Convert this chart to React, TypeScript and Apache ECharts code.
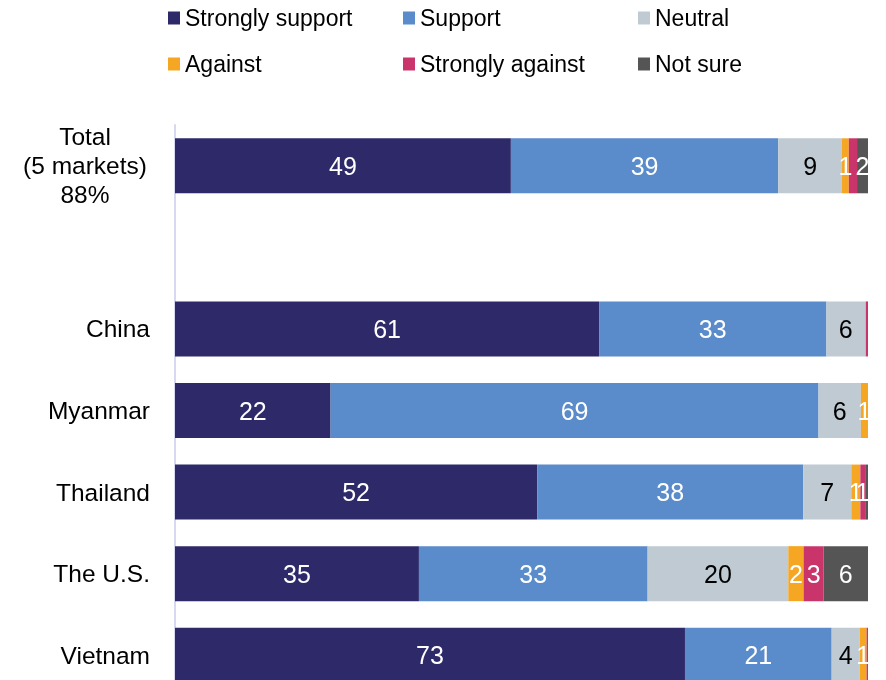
import React, { useEffect, useRef } from 'react';
import * as echarts from 'echarts';

const categories = ['Total\n(5 markets)\n88%', '', 'China', 'Myanmar', 'Thailand', 'The U.S.', 'Vietnam'];
const seriesNames = ['Strongly support', 'Support', 'Neutral', 'Against', 'Strongly against', 'Not sure'];
const stronglySupport = [49, null, 61.2, 22, 52, 35.2, 73];
const support = [39, null, 32.8, 69, 38.2, 33, 21];
const neutral = [9.3, null, 5.6, 6, 6.9, 20.3, 4];
const against = [1, null, 0.1, 1, 1.3, 2.2, 1];
const stronglyAgainst = [1.2, null, 0.3, 0, 0.7, 2.9, 0.2];
const notSure = [1.6, null, 0, 0, 0.4, 6.4, 0];
// [seriesIndex, categoryIndex] of labels not printed in the original
const hiddenLabels = [[4, 0]];

const rawSeries = [stronglySupport, support, neutral, against, stronglyAgainst, notSure];
const colors = ['#2e2a6a', '#5a8bca', '#bfcad3', '#f5a623', '#c9356b', '#555555'];
const labelColors = ['#ffffff', '#ffffff', '#000000', '#ffffff', '#ffffff', '#ffffff'];

const TEXT_FONT = "'Liberation Sans', Arial, sans-serif";
const NUM_FONT = "'Liberation Sans', Arial, sans-serif";

export default function App() {
  const ref = useRef<HTMLDivElement>(null);
  useEffect(() => {
    if (!ref.current) return;
    const chart = echarts.init(ref.current, null, { renderer: 'svg' });
    const rowSums = categories.map((_, i) =>
      rawSeries.reduce((s, arr) => s + (arr[i] == null ? 0 : (arr[i] as number)), 0)
    );
    const series = rawSeries.map((arr, si) => ({
      name: seriesNames[si],
      type: 'bar',
      stack: 'total',
      barWidth: 55,
      itemStyle: { color: colors[si] },
      label: {
        show: true,
        position: 'inside',
        color: labelColors[si],
        fontSize: 25,
        fontFamily: NUM_FONT,
        formatter: (p: any) => {
          const raw = rawSeries[p.seriesIndex][p.dataIndex];
          if (raw == null) return '';
          const r = Math.round(raw as number);
          return r >= 1 ? String(r) : '';
        },
      },
      data: arr.map((v, ci) => {
        if (v == null) return '-';
        const val = ((v as number) / rowSums[ci]) * 100;
        const hidden = hiddenLabels.some(([s, c]) => s === si && c === ci);
        return hidden ? { value: val, label: { show: false } } : val;
      }),
    }));
    const legendCols = [168, 403, 638];
    const legendRows = [4, 50];
    const legends = seriesNames.map((name, i) => ({
      data: [name],
      left: legendCols[i % 3],
      top: legendRows[Math.floor(i / 3)],
      icon: 'rect',
      itemWidth: 12,
      itemHeight: 13,
      itemGap: 0,
      padding: 0,
      selectedMode: false,
      textStyle: { fontSize: 23, fontFamily: TEXT_FONT, color: '#000', lineHeight: 28 },
    }));
    chart.setOption({
      animation: false,
      legend: legends,
      grid: { left: 175, right: 18, top: 125, bottom: 0, containLabel: false },
      xAxis: { type: 'value', min: 0, max: 100, show: false },
      yAxis: {
        type: 'category',
        inverse: true,
        data: categories,
        axisTick: { show: false },
        axisLine: { show: true, lineStyle: { color: '#d8d8ee', width: 2 } },
        axisLabel: {
          margin: 25,
          fontSize: 24.5,
          fontFamily: TEXT_FONT,
          color: '#000',
          formatter: (v: string) =>
            v.includes('\n') ? v.split('\n').map((s) => `{c|${s}}`).join('\n') : v,
          rich: {
            c: { width: 130, align: 'center', fontSize: 24.5, lineHeight: 29, fontFamily: TEXT_FONT, color: '#000' },
          },
        },
      },
      series,
    });
    return () => chart.dispose();
  }, []);
  return <div ref={ref} style={{ position: 'fixed', left: 0, top: 0, width: 886, height: 696 }} />;
}
